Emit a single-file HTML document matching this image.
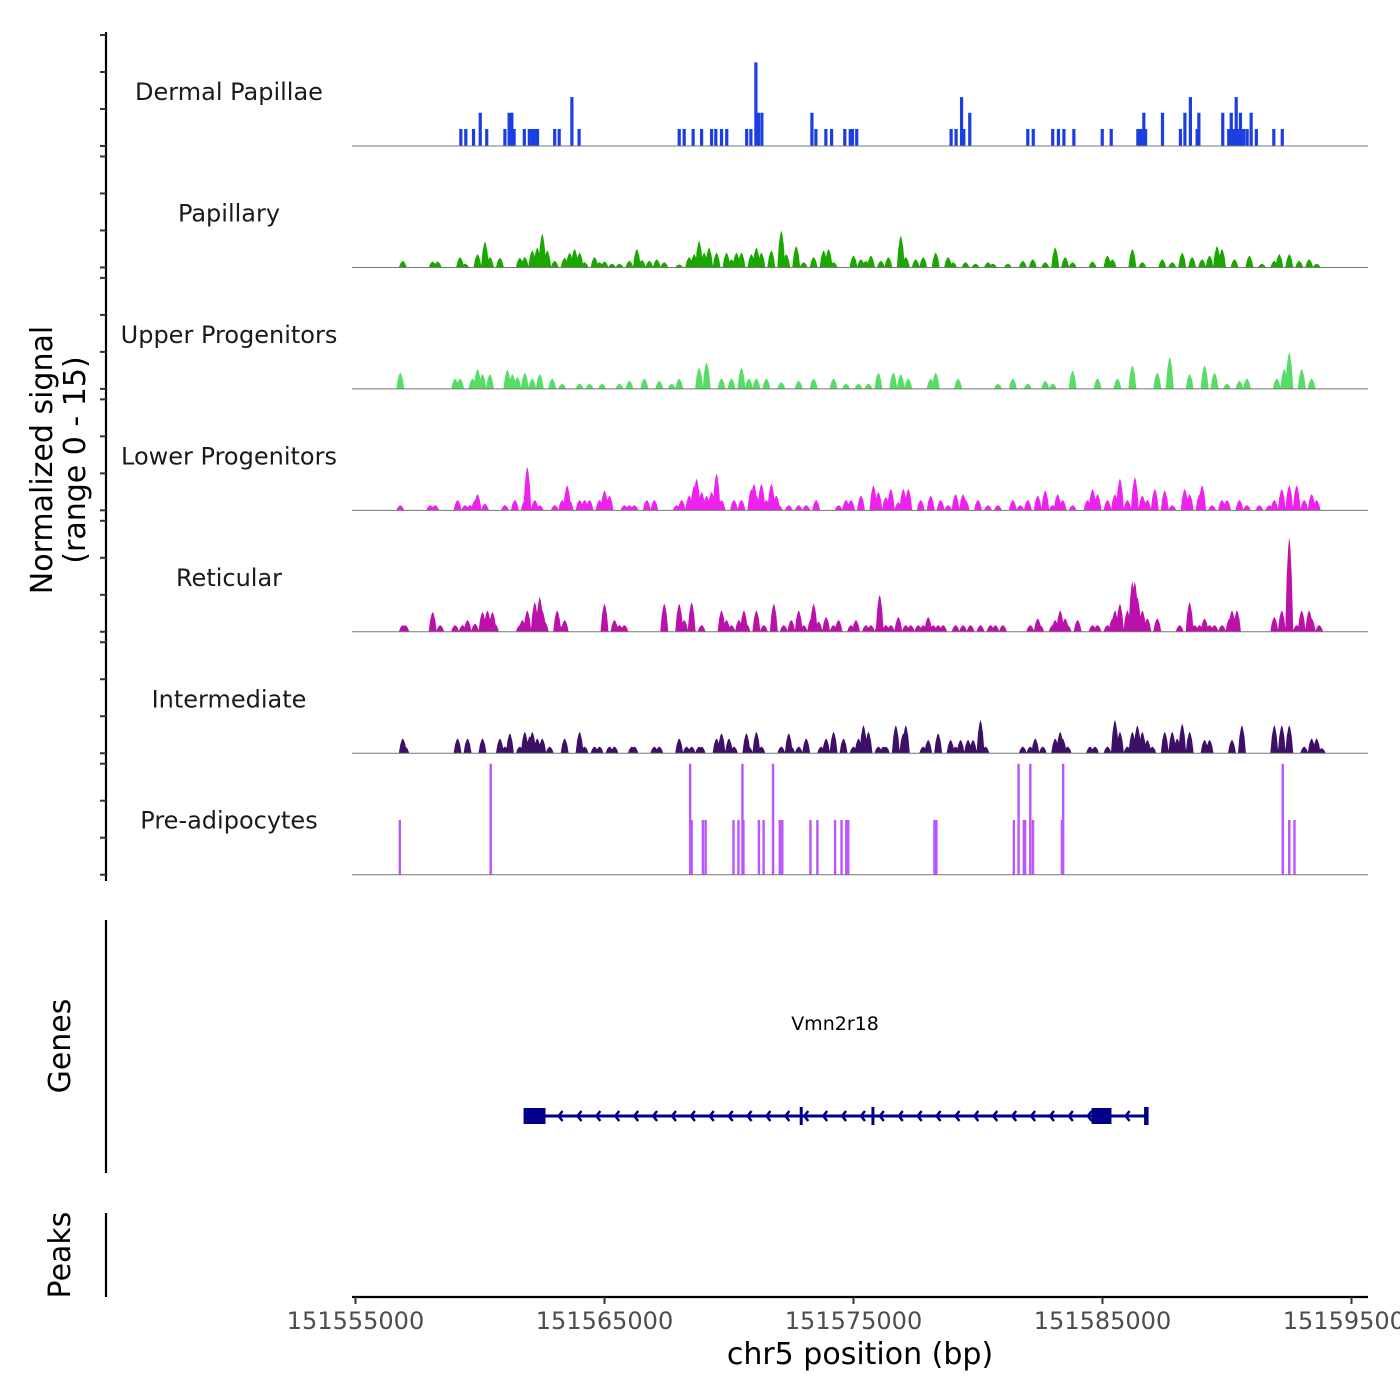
<!DOCTYPE html>
<html><head><meta charset="utf-8"><style>
html,body{margin:0;padding:0;background:#fff;}
svg{display:block;font-family:"DejaVu Sans","Liberation Sans",sans-serif;}
</style></head><body>
<svg id="chart" width="1400" height="1400" viewBox="0 0 1400 1400"></svg>
<script>
// ---- data (positions in kb offset from 151555000, signal in 0-15 units) ----
const trackNames = ["Dermal Papillae","Papillary","Upper Progenitors","Lower Progenitors","Reticular","Intermediate","Pre-adipocytes"];
const trackColors = ["#1a3ee0","#1aa800","#55dd66","#ee22ee","#bb11aa","#3d0f66","#bb55ff"];
const xTickValues = [151555000,151565000,151575000,151585000,151595000];

const dermalPos = [4.23,4.43,4.74,5.01,5.27,6.00,6.17,6.28,6.37,6.78,6.98,7.11,7.22,7.31,8.00,8.18,8.69,8.98,13.00,13.20,13.56,13.90,14.30,14.47,14.70,14.91,15.71,15.88,16.08,16.18,16.32,18.33,18.49,18.89,19.12,19.65,19.87,19.96,20.13,23.92,24.12,24.34,24.43,24.67,27.00,27.22,28.00,28.23,28.45,28.85,29.99,30.35,31.42,31.53,31.66,31.73,32.41,33.13,33.31,33.53,33.80,33.87,34.83,35.07,35.17,35.27,35.37,35.47,35.54,35.67,35.81,35.97,36.18,36.88,37.22];
const dermalVal = [2.3,2.3,2.3,4.5,2.3,2.3,4.5,4.5,2.3,2.3,2.3,2.3,2.3,2.3,2.3,2.3,6.6,2.3,2.3,2.3,2.3,2.3,2.3,2.3,2.3,2.3,2.3,2.3,11.3,4.5,4.5,4.5,2.3,2.3,2.3,2.3,2.3,2.3,2.3,2.3,2.3,6.6,2.3,4.5,2.3,2.3,2.3,2.3,2.3,2.3,2.3,2.3,2.3,2.3,4.5,2.3,4.5,2.3,4.5,6.6,2.3,4.5,4.5,2.3,4.5,2.3,6.6,2.3,4.5,2.3,2.3,4.5,2.3,2.3,2.3];

const papPos = [1.9,3.1,3.3,4.2,4.4,4.9,5.2,5.4,5.8,6.6,6.8,7.1,7.3,7.5,7.7,8.0,8.4,8.6,8.8,9.0,9.2,9.6,9.8,10.0,10.3,10.6,11.0,11.3,11.5,11.8,12.1,12.4,13.0,13.4,13.6,13.8,14.0,14.2,14.5,14.9,15.1,15.3,15.5,15.9,16.1,16.3,16.7,17.1,17.3,17.7,18.0,18.4,18.8,19.0,19.2,20.0,20.3,20.5,20.7,21.1,21.4,21.9,22.1,22.5,22.8,23.3,23.8,24.0,24.5,24.9,25.4,25.6,26.2,26.8,27.2,27.7,28.1,28.5,28.8,29.6,30.2,30.4,31.2,31.6,32.4,32.8,33.2,33.6,34.0,34.3,34.6,34.8,35.3,35.9,36.4,36.9,37.1,37.5,37.9,38.3,38.6];
const papVal = [0.9,0.8,0.8,1.4,0.5,1.8,3.5,1.4,1.3,1.3,1.4,2.3,2.7,4.6,2.3,0.9,1.3,2.0,2.5,2.0,0.7,1.4,0.7,0.8,0.5,0.5,0.9,2.5,1.0,0.9,1.1,0.7,0.4,1.4,1.8,3.6,2.0,2.7,2.0,2.0,1.1,2.0,2.0,1.8,2.7,2.0,2.3,5.0,1.8,2.9,0.7,1.4,2.3,2.5,0.7,1.6,1.1,0.9,1.6,0.9,1.4,4.3,1.4,1.1,1.4,2.0,1.4,0.7,0.7,0.5,0.7,0.5,0.5,0.9,1.1,0.7,2.7,1.4,0.7,0.8,1.6,1.1,2.5,0.7,1.1,0.7,2.0,1.4,1.1,1.6,2.9,2.5,1.1,1.6,0.5,0.9,1.8,1.8,0.9,1.1,0.5];

const upperPos = [1.8,4.0,4.2,4.7,4.9,5.1,5.4,6.1,6.3,6.5,6.8,7.1,7.4,7.9,8.3,9.0,9.4,9.9,10.6,11.0,11.6,12.2,12.7,13.0,13.8,14.1,14.7,15.1,15.5,15.8,16.1,16.5,17.1,17.8,18.4,19.2,19.7,20.2,20.6,21.0,21.6,21.9,22.2,23.1,23.3,24.2,25.8,26.4,27.0,27.7,28.0,28.8,29.8,30.6,31.2,32.2,32.7,33.5,34.1,34.5,35.0,35.5,35.8,37.0,37.3,37.5,38.0,38.4];
const upperVal = [2.2,1.4,1.4,1.4,2.7,2.0,2.0,2.6,2.0,1.6,2.2,1.4,2.0,1.4,0.7,0.7,0.7,0.7,0.7,1.1,1.4,1.1,0.7,1.4,2.9,3.6,1.4,1.4,2.9,1.4,1.4,1.4,0.9,1.1,1.4,1.4,0.7,0.7,0.7,2.2,2.2,2.0,1.4,1.4,2.2,1.4,0.7,1.4,0.7,1.1,0.7,2.5,1.4,1.4,3.2,2.2,4.3,2.0,3.2,2.2,0.7,1.1,1.4,1.4,2.7,5.0,2.7,1.4];

const lowerPos = [1.8,3.0,3.2,4.1,4.4,4.6,4.8,4.9,5.2,6.0,6.4,6.8,6.9,7.2,7.4,8.0,8.3,8.5,8.6,9.0,9.2,9.4,9.8,10.0,10.2,10.8,11.0,11.2,11.7,12.0,12.9,13.1,13.4,13.6,13.7,13.9,14.1,14.3,14.5,14.7,15.2,15.5,15.9,16.0,16.1,16.3,16.5,16.7,16.9,17.0,17.4,17.8,18.1,18.5,19.4,19.7,19.9,20.3,20.8,21.0,21.3,21.5,21.8,22.0,22.2,22.7,23.1,23.5,23.8,24.1,24.4,24.5,25.0,25.4,25.8,26.4,26.7,27.0,27.4,27.7,28.0,28.2,28.4,28.8,29.4,29.6,29.8,30.2,30.5,30.7,31.0,31.3,31.6,31.8,32.1,32.5,32.8,33.3,33.5,33.9,34.0,34.4,34.8,35.0,35.5,35.8,36.3,36.7,36.9,37.2,37.5,37.8,38.1,38.4,38.6];
const lowerVal = [0.7,0.7,0.7,1.4,0.7,0.7,1.4,2.2,0.9,0.7,1.4,1.4,5.9,1.4,0.7,0.7,1.4,3.4,1.4,1.4,1.4,1.4,1.4,2.7,2.0,0.7,0.7,0.7,1.4,1.4,0.7,1.4,2.0,3.4,4.3,2.5,2.0,2.5,5.0,1.4,1.4,1.4,2.9,3.6,2.0,3.6,1.4,3.6,2.0,0.7,0.7,0.7,0.7,1.4,0.7,1.4,1.4,2.0,3.4,2.5,1.8,2.9,1.1,2.9,2.9,1.4,2.0,1.4,0.7,2.2,2.2,1.4,1.4,0.7,0.7,1.4,0.7,1.4,2.0,2.7,0.7,2.2,1.4,0.7,1.4,2.9,2.2,1.4,2.2,4.3,1.4,4.5,2.0,1.4,2.9,2.7,0.7,2.9,2.2,2.2,3.4,0.7,1.4,1.4,1.4,0.7,0.7,0.7,1.4,2.9,3.4,3.4,1.4,2.2,1.4];

const retPos = [1.9,2.0,3.1,3.4,4.0,4.3,4.5,4.8,5.1,5.3,5.5,5.6,6.6,6.7,6.9,7.2,7.4,7.5,7.6,8.1,8.2,8.4,10.0,10.4,10.6,10.8,12.4,13.0,13.2,13.5,13.9,14.7,14.9,15.1,15.4,15.6,15.7,16.1,16.4,16.8,17.2,17.5,17.8,18.0,18.3,18.4,18.6,18.9,19.2,19.4,19.9,20.1,20.5,20.7,21.0,21.05,21.3,21.5,21.8,22.1,22.3,22.6,22.8,23.0,23.2,23.4,23.6,24.1,24.4,24.7,25.1,25.5,25.7,26.0,27.1,27.4,27.5,28.0,28.1,28.3,28.5,28.6,29.0,29.6,29.8,30.2,30.4,30.5,30.7,31.0,31.2,31.3,31.4,31.6,31.8,32.2,33.1,33.5,33.7,33.9,34.1,34.3,34.5,34.8,35.1,35.2,35.4,36.9,37.2,37.5,37.8,38.0,38.3,38.4,38.7];
const retVal = [0.9,0.9,2.7,0.9,0.9,0.9,1.6,1.1,2.7,2.9,2.7,1.1,0.9,1.6,2.9,4.0,4.7,2.9,1.4,2.9,0.9,1.6,3.8,1.6,0.9,0.9,3.8,3.8,1.6,4.0,0.9,2.9,1.6,0.9,1.6,2.9,1.1,2.9,0.9,3.8,0.9,1.6,2.9,0.9,1.8,3.8,1.4,2.0,0.9,1.6,0.9,1.6,0.9,0.9,0.9,5.0,0.9,0.9,2.0,0.9,0.9,0.9,0.9,2.0,0.9,0.9,0.9,0.9,0.9,0.9,0.9,0.9,0.9,0.9,0.9,1.8,0.9,0.9,1.6,2.9,1.8,0.9,1.6,0.9,0.9,0.9,1.8,2.9,3.8,2.9,6.8,6.8,4.7,2.9,1.8,1.8,0.9,4.0,0.9,0.9,1.8,0.9,0.9,0.9,1.8,2.9,2.9,2.0,2.9,12.8,0.9,2.9,2.9,1.8,0.9];

const interPos = [1.9,2.0,4.1,4.5,5.1,5.8,6.0,6.2,6.6,6.8,7.0,7.1,7.3,7.5,7.8,8.4,9.0,9.2,9.6,9.8,10.2,10.4,11.1,11.2,12.0,12.2,13.0,13.3,13.5,13.8,13.9,14.5,14.7,15.0,15.2,15.7,15.8,16.1,16.3,17.1,17.4,17.5,17.8,18.1,18.7,18.9,19.2,19.6,20.0,20.2,20.4,20.6,21.0,21.2,21.3,21.7,22.0,22.1,22.8,23.0,23.4,23.9,24.1,24.3,24.6,24.8,25.1,25.3,26.8,27.1,27.3,27.6,28.1,28.3,28.4,28.6,29.5,29.7,30.2,30.5,30.7,31.0,31.2,31.4,31.6,31.8,32.0,32.5,32.8,33.0,33.2,33.5,34.1,34.3,35.2,35.6,36.9,37.2,37.5,38.1,38.4,38.6,38.8];
const interVal = [2.0,0.9,2.0,2.0,2.0,2.0,0.9,2.7,0.9,2.9,2.3,2.9,2.0,2.0,0.9,2.0,2.9,0.9,0.9,0.9,0.9,0.9,0.9,0.9,0.9,0.9,2.0,0.9,0.9,0.9,0.9,2.0,2.7,2.0,0.9,2.7,0.9,2.9,0.9,0.9,2.7,0.9,0.9,2.0,0.9,2.0,2.9,2.0,0.9,2.0,3.8,2.9,0.9,0.9,0.9,3.8,2.7,3.8,0.9,1.8,2.7,1.8,0.9,1.8,1.8,1.8,4.5,0.9,0.9,0.9,2.0,0.9,2.0,2.9,2.0,0.9,0.9,0.9,0.9,4.5,2.9,0.9,2.9,3.8,2.9,1.8,0.9,2.9,2.9,2.0,4.0,2.9,1.8,1.8,1.8,3.8,3.8,3.8,3.8,0.9,2.0,2.0,0.7];

const preadPos = [1.78,5.43,13.44,13.50,13.95,14.06,15.18,15.38,15.54,15.58,16.20,16.39,16.77,17.04,17.14,18.27,18.55,19.26,19.52,19.71,19.79,23.25,23.33,26.44,26.63,26.84,26.89,27.10,27.21,28.37,28.42,37.24,37.50,37.71];
const preadVal = [7.4,15,15,7.4,7.4,7.4,7.4,7.4,15,7.4,7.4,7.4,15,7.4,7.4,7.4,7.4,7.4,7.4,7.4,7.4,7.4,7.4,7.4,15,7.4,7.4,15,7.4,7.4,15,15,7.4,7.4];

const geneName = "Vmn2r18";
const geneStart = 6.75, geneEnd = 31.85;
const exonStarts = [6.75,17.84,20.72,29.56,31.67];
const exonEnds   = [7.63,17.92,20.82,30.36,31.85];
const exonTall   = [0,1,1,0,1];

// ---- layout ----
const NS="http://www.w3.org/2000/svg";
const svg=document.getElementById('chart');
const X0=355.5, PXKB=24.9;
function xScale(kb){return X0+kb*PXKB;}
function bpScale(bp){return xScale((bp-151555000)/1000);}
const baseY0=146, trackStep=121.45, PXU=7.4;
function yScale(i,v){return baseY0+i*trackStep - Math.min(v,15)*PXU;}
function mk(tag,attrs,parent){const e=document.createElementNS(NS,tag);for(const k in attrs)e.setAttribute(k,attrs[k]);(parent||svg).appendChild(e);return e;}

// left axis
const ax=mk('line',{x1:106,y1:32,x2:106,y2:881,stroke:'#000','stroke-width':2.2});


for(let i=0;i<7;i++){
  for(let t=0;t<=15;t+=5){
    const y=yScale(i,t);
    const tk=mk('line',{x1:100,y1:y,x2:106,y2:y,stroke:'#333','stroke-width':2});
    
    
  }
}
const yt=mk('text',{transform:'translate(52,460) rotate(-90)','text-anchor':'middle','font-size':30,fill:'#000'});


yt.innerHTML='<tspan x="0" dy="0">Normalized signal</tspan><tspan x="0" dy="33">(range 0 - 15)</tspan>';

const data=[[dermalPos,dermalVal,'bar'],[papPos,papVal,'area'],[upperPos,upperVal,'area'],[lowerPos,lowerVal,'area'],[retPos,retVal,'area'],[interPos,interVal,'area'],[preadPos,preadVal,'bar2']];
for(let i=0;i<7;i++){
  const base=baseY0+i*trackStep;
  const g=mk('g',{});
  
  
  const lbl=mk('text',{x:229,y:base-46,'text-anchor':'middle','font-size':24,fill:'#1a1a1a'},g);
  
  
  lbl.textContent=trackNames[i];
  const [pos,val,kind]=data[i];
  let d='';
  for(let j=0;j<pos.length;j++){
    const cx=xScale(pos[j]), top=yScale(i,val[j]);
    if(kind==='area'){
      d+=`M${cx-4},${base}L${cx-2.5},${top+(base-top)*0.4}L${cx-1},${top+(base-top)*0.1}L${cx},${top}L${cx+1},${top+(base-top)*0.1}L${cx+2.5},${top+(base-top)*0.4}L${cx+4},${base}Z`;
    } else {
      const w = kind==='bar'?3.2:2.4;
      d+=`M${cx-w/2},${base}V${top}H${cx+w/2}V${base}Z`;
    }
  }
  const p=mk('path',{d:d,fill:trackColors[i]},g);
  
  
  const bl=mk('line',{x1:352,y1:base,x2:1368,y2:base,stroke:'#777','stroke-width':1},g);
  
  
}

// genes panel
const ga=mk('line',{x1:106,y1:920,x2:106,y2:1173,stroke:'#000','stroke-width':2.2});


const gt=mk('text',{transform:'translate(70,1046) rotate(-90)','text-anchor':'middle','font-size':30,fill:'#000'});


gt.textContent='Genes';
const gy=1116;
const gg=mk('g',{});


const gl=mk('line',{x1:xScale(geneStart),y1:gy,x2:xScale(geneEnd),y2:gy,stroke:'#00008b','stroke-width':3},gg);


let ad='';
for(let x=xScale(geneStart)+35;x<xScale(geneEnd)-8;x+=18.9){ad+=`M${x+4},${gy-5}L${x},${gy}L${x+4},${gy+5}`;}
const ar=mk('path',{d:ad,stroke:'#00008b','stroke-width':2.5,fill:'none'},gg);


for(let j=0;j<exonStarts.length;j++){
  const x1=xScale(exonStarts[j]),x2=xScale(exonEnds[j]);
  const h=exonTall[j]?18:16;
  const r=mk('rect',{x:x1,y:gy-h/2,width:Math.max(x2-x1,3),height:h,fill:'#00008b'},gg);
  
  
}
const gn=mk('text',{x:835,y:1030,'text-anchor':'middle','font-size':19,fill:'#000'},gg);


gn.textContent=geneName;

// peaks panel
const pa=mk('line',{x1:106,y1:1213,x2:106,y2:1297,stroke:'#000','stroke-width':2.2});


const pt=mk('text',{transform:'translate(70,1255) rotate(-90)','text-anchor':'middle','font-size':30,fill:'#000'});


pt.textContent='Peaks';

// x axis
const xa=mk('line',{x1:352,y1:1297,x2:1368,y2:1297,stroke:'#000','stroke-width':2.2});


for(const v of xTickValues){
  const x=bpScale(v);
  const t=mk('line',{x1:x,y1:1297,x2:x,y2:1304,stroke:'#333','stroke-width':2});
  
  
  const l=mk('text',{x:x,y:1329,'text-anchor':'middle','font-size':24,fill:'#4d4d4d'});
  
  
  l.textContent=String(v);
}
const xt=mk('text',{x:860,y:1364,'text-anchor':'middle','font-size':30,fill:'#000'});


xt.textContent='chr5 position (bp)';
</script>
</body></html>
